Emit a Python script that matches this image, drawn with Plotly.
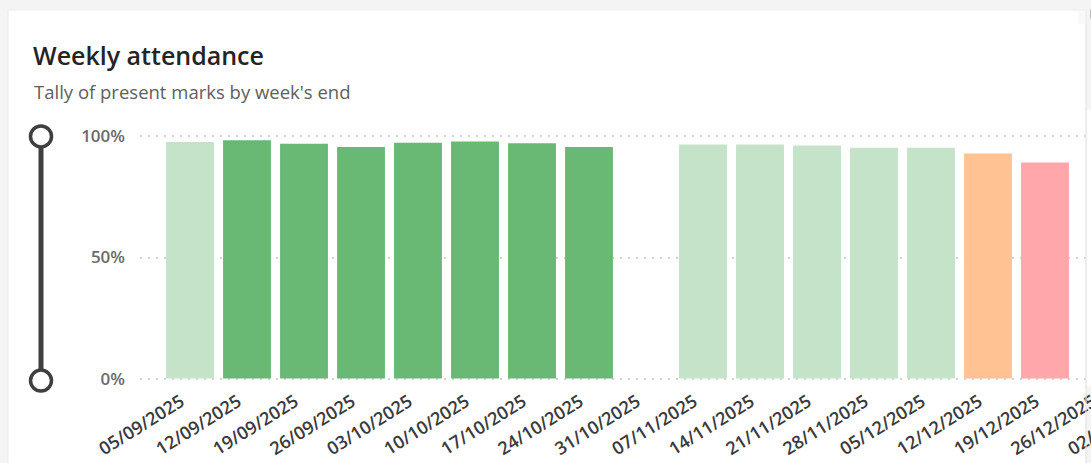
import plotly.graph_objects as go

# ---------------- data ----------------
weeks = ["05/09/2025", "12/09/2025", "19/09/2025", "26/09/2025", "03/10/2025",
         "10/10/2025", "17/10/2025", "24/10/2025", "31/10/2025", "07/11/2025",
         "14/11/2025", "21/11/2025", "28/11/2025", "05/12/2025", "12/12/2025",
         "19/12/2025", "26/12/2025", "02/01/2026"]
attendance = [97.7, 98.4, 97.0, 95.6, 97.4, 97.9, 97.2, 95.6, None, 96.7,
              96.7, 96.3, 95.3, 95.3, 92.9, 89.2, None, None]
status = ["muted", "good", "good", "good", "good", "good", "good", "good", None,
          "muted", "muted", "muted", "muted", "muted", "warning", "alert", None, None]

title_text = "Weekly attendance"
subtitle_text = "Tally of present marks by week's end"
y_ticks = [0, 50, 100]
y_tick_labels = ["0%", "50%", "100%"]

# ---------------- styling ----------------
palette = {"muted": "#c4e3c8", "good": "#69b975", "warning": "#ffc393", "alert": "#ffa7aa", None: "rgba(0,0,0,0)"}
bar_colors = [palette[s] for s in status]

W, H = 1200, 463
Y_LO, Y_HI = -1, 101
ML, MR, MT, MB = 140, 5, 134, 82
PW, PH = W - ML - MR, H - MT - MB
slot = 57.0                      # pixels per category
first_center = 190.0             # pixel of first category centre
x_lo = (ML - first_center) / slot
x_hi = x_lo + PW / slot

def px(xp):
    return (xp - ML) / PW

def py(yp):
    return (H - MB - yp) / PH

def pv(v):
    return (v - Y_LO) / (Y_HI - Y_LO)

FONT = "Open Sans"
DARK = "#3f3f3f"

fig = go.Figure()
fig.add_trace(go.Bar(
    x=weeks, y=attendance,
    marker=dict(color=bar_colors, line=dict(width=0)),
    width=0.84,
    hoverinfo="x+y",
))

shapes = []
# card background
shapes.append(dict(type="rect", xref="paper", yref="paper", layer="below",
                   x0=px(8), x1=px(1086), y0=py(10), y1=py(H + 20),
                   fillcolor="white", line=dict(color="#ececec", width=1)))
# cover beyond card right edge inside plot area
shapes.append(dict(type="rect", xref="paper", yref="paper", layer="above",
                   x0=px(1086.5), x1=1.01, y0=py(386), y1=py(110),
                   fillcolor="white", line=dict(width=0)))
shapes.append(dict(type="line", xref="paper", yref="paper", layer="above",
                   x0=px(1086), x1=px(1086), y0=py(10), y1=py(H + 20),
                   line=dict(color="#e8e8e8", width=1.2)))
# range slider decoration
slider_x = px(41)
shapes.append(dict(type="line", xref="paper", yref="paper", layer="above",
                   x0=slider_x, x1=slider_x, y0=pv(y_ticks[0]), y1=pv(y_ticks[-1]),
                   line=dict(color=DARK, width=5)))
for yv, off in [(y_ticks[-1], 0), (y_ticks[0], -2)]:
    shapes.append(dict(type="circle", xref="paper", yref="paper", layer="above",
                       xsizemode="pixel", ysizemode="pixel",
                       xanchor=slider_x, yanchor=pv(yv),
                       x0=-10.5, x1=10.5, y0=-10.5 + off, y1=10.5 + off,
                       fillcolor="white", line=dict(color=DARK, width=3.5)))

fig.update_layout(
    width=W, height=H,
    margin=dict(l=ML, r=MR, t=MT, b=MB, pad=0, autoexpand=False),
    paper_bgcolor="#f4f4f4", plot_bgcolor="rgba(0,0,0,0)",
    showlegend=False,
    bargap=0.16,
    font=dict(family=FONT, color="#333333"),
    title=dict(text=title_text, xref="container", yref="container",
               x=33 / W, xanchor="left", y=1 - 56 / H, yanchor="middle",
               font=dict(family=FONT, size=25, color="#252423", weight=600)),
    annotations=[dict(text=subtitle_text, xref="paper", yref="paper",
                      x=px(32), y=py(92), xanchor="left", yanchor="middle",
                      showarrow=False,
                      font=dict(family=FONT, size=18.5, color="#605e5c"))],
    shapes=shapes,
    xaxis=dict(type="category", range=[x_lo, x_hi], tickangle=-32,
               automargin=False,
               showgrid=False, zeroline=False, showline=False, ticks="",
               ticklabelstandoff=6, ticklabelshift=-9,
               tickfont=dict(family=FONT, size=18, color="#3a3a3a", weight=600),
               fixedrange=True),
    yaxis=dict(range=[Y_LO, Y_HI], tickvals=y_ticks, ticktext=y_tick_labels,
               automargin=False,
               showgrid=True, gridcolor="#d2d2d2", griddash="2px,6px", gridwidth=2,
               zeroline=False, showline=False, ticks="",
               ticklabelstandoff=14,
               tickfont=dict(family=FONT, size=17, color="#6a6a6a", weight=600),
               fixedrange=True),
)

fig.write_html("out.html",
               post_script="document.body.style.margin='0';document.body.style.overflow='hidden';")
